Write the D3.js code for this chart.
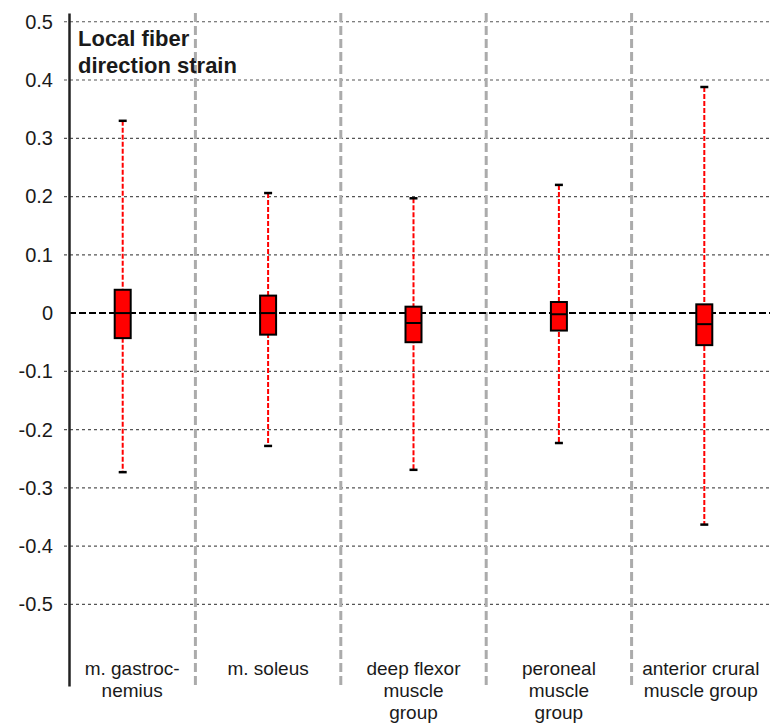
<!DOCTYPE html>
<html>
<head>
<meta charset="utf-8">
<script src="https://cdn.jsdelivr.net/npm/d3@7"></script>
<style>
  body { margin: 0; background: #fff; }
  text { font-family: "Liberation Sans", Arial, sans-serif; fill: #1a1a1a; }
</style>
</head>
<body>
<script>
// muscle groups, each label split over lines
var categories = ["gastrocnemius", "soleus", "deep flexor", "peroneal", "anterior crural"];
var labelLines = [
  ["m. gastroc-", "nemius"],
  ["m. soleus"],
  ["deep flexor", "muscle", "group"],
  ["peroneal", "muscle", "group"],
  ["anterior crural", "muscle group"]
];

// box plot values (local fiber direction strain)
var whiskerHigh = [0.330, 0.206, 0.197, 0.220, 0.388];
var q3 = [0.040, 0.030, 0.011, 0.019, 0.015];
var median = [0.000, 0.000, -0.017, -0.002, -0.019];
var q1 = [-0.043, -0.037, -0.050, -0.030, -0.055];
var whiskerLow = [-0.273, -0.228, -0.269, -0.223, -0.363];

var yTicks = [-0.5, -0.4, -0.3, -0.2, -0.1, 0, 0.1, 0.2, 0.3, 0.4, 0.5];

var data = categories.map(function(c, i) {
  return {cat: c, lines: labelLines[i], hi: whiskerHigh[i], q3: q3[i], med: median[i], q1: q1[i], lo: whiskerLow[i]};
});

var W = 770, H = 725;
var axisX = 69;

var svg = d3.select("body").append("svg").attr("width", W).attr("height", H);

var x = d3.scaleBand().domain(categories).range([50, 777]).padding(0);
var y = d3.scaleLinear().domain([-0.64, 0.515]).range([686, 13]);

// dotted grid lines
svg.selectAll("line.grid").data(yTicks.filter(function(d) { return d !== 0; })).enter().append("line")
    .attr("class", "grid")
    .attr("x1", axisX - 5).attr("x2", W)
    .attr("y1", function(d) { return y(d); })
    .attr("y2", function(d) { return y(d); })
    .attr("stroke", "#555").attr("stroke-width", 1.2)
    .attr("stroke-dasharray", "3,3");

// grey separators between groups
svg.selectAll("line.sep").data(categories.slice(1)).enter().append("line")
    .attr("class", "sep")
    .attr("x1", function(d) { return x(d); })
    .attr("x2", function(d) { return x(d); })
    .attr("y1", 13).attr("y2", 687)
    .attr("stroke", "#ababab").attr("stroke-width", 3)
    .attr("stroke-dasharray", "9,4");

// zero line
svg.append("line")
    .attr("x1", axisX).attr("x2", W)
    .attr("y1", y(0)).attr("y2", y(0))
    .attr("stroke", "#000").attr("stroke-width", 2)
    .attr("stroke-dasharray", "7,3");

// y axis
var yAxis = d3.axisLeft(y).tickValues(yTicks).tickSize(0).tickSizeOuter(0).tickPadding(16)
    .tickFormat(function(d) { return d === 0 ? "0" : d.toFixed(1); });
var ga = svg.append("g").attr("transform", "translate(" + axisX + ",0)").call(yAxis);
ga.select(".domain").attr("stroke", "#222").attr("stroke-width", 2.5);
ga.selectAll("text").style("font-size", "20px").attr("fill", "#1a1a1a");

var cx = function(d) { return x(d.cat) + x.bandwidth() / 2; };
// label sits in the middle of the visible cell (between axis/separators/edge)
var lx = function(d) {
  var a = Math.max(x(d.cat), axisX), b = Math.min(x(d.cat) + x.bandwidth(), W);
  return (a + b) / 2;
};
var bw = 16, capW = 8;

var g = svg.selectAll("g.box").data(data).enter().append("g").attr("class", "box");

// whiskers
g.append("line")
    .attr("x1", cx).attr("x2", cx)
    .attr("y1", function(d) { return y(d.hi); })
    .attr("y2", function(d) { return y(d.lo); })
    .attr("stroke", "#ff0000").attr("stroke-width", 2)
    .attr("stroke-dasharray", "5,2");

// caps
g.selectAll("line.cap").data(function(d) { return [{c: cx(d), v: d.hi}, {c: cx(d), v: d.lo}]; })
  .enter().append("line")
    .attr("class", "cap")
    .attr("x1", function(d) { return d.c - capW / 2; })
    .attr("x2", function(d) { return d.c + capW / 2; })
    .attr("y1", function(d) { return y(d.v); })
    .attr("y2", function(d) { return y(d.v); })
    .attr("stroke", "#000").attr("stroke-width", 2.5);

// box
g.append("rect")
    .attr("x", function(d) { return cx(d) - bw / 2; })
    .attr("y", function(d) { return y(d.q3); })
    .attr("width", bw)
    .attr("height", function(d) { return y(d.q1) - y(d.q3); })
    .attr("fill", "#ff0000").attr("stroke", "#000").attr("stroke-width", 2);

// median
g.append("line")
    .attr("x1", function(d) { return cx(d) - bw / 2; })
    .attr("x2", function(d) { return cx(d) + bw / 2; })
    .attr("y1", function(d) { return y(d.med); })
    .attr("y2", function(d) { return y(d.med); })
    .attr("stroke", "#000").attr("stroke-width", 2);

// category labels
svg.selectAll("text.cat").data(data).enter().append("text")
    .attr("class", "cat")
    .attr("text-anchor", "middle")
    .style("font-size", "19px")
    .attr("y", 675)
    .selectAll("tspan").data(function(d) { return d.lines.map(function(l) { return {t: l, c: lx(d)}; }); })
    .enter().append("tspan")
    .attr("x", function(d) { return d.c; })
    .attr("dy", function(d, i) { return i === 0 ? 0 : 22; })
    .text(function(d) { return d.t; });

// title
var title = svg.append("text").attr("x", 78).attr("y", 46)
    .style("font-size", "22px").style("font-weight", "bold").attr("fill", "#000");
title.append("tspan").attr("x", 78).text("Local fiber");
title.append("tspan").attr("x", 78).attr("dy", 27).text("direction strain");
</script>
</body>
</html>
